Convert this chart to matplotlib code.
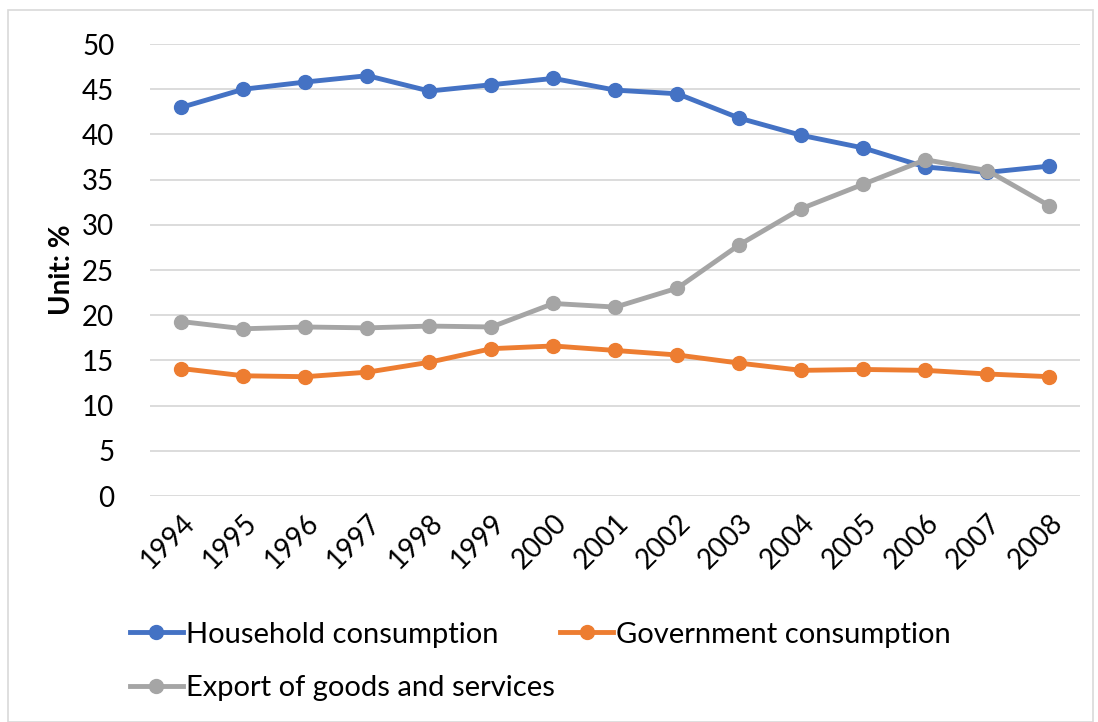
import matplotlib
matplotlib.use("Agg")
import matplotlib.pyplot as plt
from matplotlib.patches import Rectangle

years = ['1994', '1995', '1996', '1997', '1998', '1999', '2000', '2001',
         '2002', '2003', '2004', '2005', '2006', '2007', '2008']
household = [43.0, 45.0, 45.8, 46.5, 44.8, 45.5, 46.2, 44.9, 44.5, 41.8,
             39.9, 38.5, 36.4, 35.8, 36.5]
government = [14.1, 13.3, 13.2, 13.7, 14.8, 16.3, 16.6, 16.1, 15.6, 14.7,
              13.9, 14.0, 13.9, 13.5, 13.2]
export = [19.3, 18.5, 18.7, 18.6, 18.8, 18.7, 21.3, 20.9, 23.0, 27.8,
          31.8, 34.5, 37.2, 36.0, 32.1]

plt.rcParams['font.family'] = ['Lato', 'DejaVu Sans']

fig = plt.figure(figsize=(10.98, 7.22), dpi=100)
ax = fig.add_axes([0.137, 0.313, 0.847, 0.626])

# light frame around the chart area, like the spreadsheet export
fig.patches.append(Rectangle((0.007, 0.0), 0.988, 0.986, transform=fig.transFigure,
                             fill=False, edgecolor='#d9d9d9', linewidth=1.2))

x = range(len(years))
h1, = ax.plot(x, household, color='#4472c4', lw=3.5, marker='o', ms=10, label='Household consumption')
h2, = ax.plot(x, government, color='#ed7d31', lw=3.5, marker='o', ms=10, label='Government consumption')
h3, = ax.plot(x, export, color='#a5a5a5', lw=3.5, marker='o', ms=10, label='Export of goods and services')

ax.set_xlim(-0.5, len(years) - 0.5)
ax.set_ylim(0, 50)
ax.set_yticks(range(0, 51, 5))
ax.set_xticks(list(x))
ax.set_xticklabels(years, rotation=45, ha='right', rotation_mode='anchor')
ax.tick_params(axis='both', length=0, labelsize=20)
ax.tick_params(axis='y', pad=26)
ax.tick_params(axis='x', pad=10)
ax.grid(axis='y', color='#d9d9d9', lw=1.3)
ax.set_axisbelow(True)
for s in ax.spines.values():
    s.set_visible(False)

ax.set_ylabel('Unit: %', fontsize=20, fontweight='bold', labelpad=5)

# legend fills column-wise, so order handles to get household/government on row 1
ax.legend([h1, h3, h2], [h1.get_label(), h3.get_label(), h2.get_label()],
          loc='upper left', bbox_to_anchor=(-0.05, -0.22), ncol=2, frameon=False,
          fontsize=21, handlelength=1.8, handletextpad=0.1, columnspacing=0.2,
          labelspacing=0.95)

fig.savefig('out.png', dpi=100)
